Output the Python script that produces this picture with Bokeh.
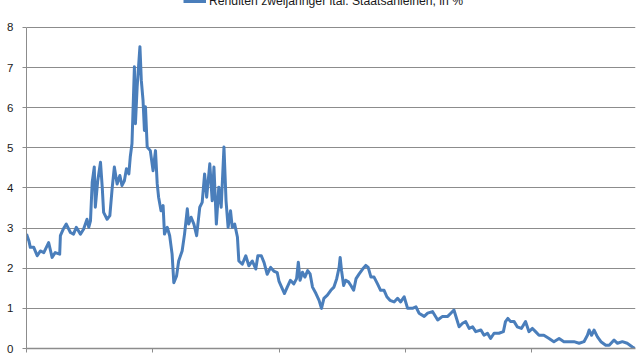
from bokeh.plotting import figure
from bokeh.models import FixedTicker, Legend, LegendItem, ColumnDataSource, Range1d
from bokeh.embed import file_html
from bokeh.resources import INLINE
import pandas as pd

# ---- data ----
dates = [
    "2011-01-01", "2011-01-08", "2011-01-12", "2011-01-22", "2011-02-01", "2011-02-10",
    "2011-02-20", "2011-03-06", "2011-03-16", "2011-03-25", "2011-04-07", "2011-04-09",
    "2011-04-17", "2011-04-26", "2011-05-08", "2011-05-17", "2011-05-25", "2011-06-06",
    "2011-06-15", "2011-06-25", "2011-06-30", "2011-07-05", "2011-07-10", "2011-07-16",
    "2011-07-19", "2011-07-26", "2011-08-03", "2011-08-08", "2011-08-12", "2011-08-22",
    "2011-08-30", "2011-09-06", "2011-09-12", "2011-09-20", "2011-09-28", "2011-10-04",
    "2011-10-11", "2011-10-17", "2011-10-24", "2011-10-28", "2011-11-02", "2011-11-09",
    "2011-11-12", "2011-11-17", "2011-11-25", "2011-11-29", "2011-12-04", "2011-12-08",
    "2011-12-11", "2011-12-16", "2011-12-25", "2012-01-02", "2012-01-09", "2012-01-14",
    "2012-01-18", "2012-01-25", "2012-01-31", "2012-02-04", "2012-02-12", "2012-02-19",
    "2012-02-26", "2012-03-02", "2012-03-10", "2012-03-16", "2012-03-26", "2012-04-02",
    "2012-04-10", "2012-04-14", "2012-04-21", "2012-04-29", "2012-05-07", "2012-05-16",
    "2012-05-23", "2012-05-30", "2012-06-05", "2012-06-14", "2012-06-21", "2012-06-26",
    "2012-07-03", "2012-07-10", "2012-07-17", "2012-07-25", "2012-07-31", "2012-08-06",
    "2012-08-13", "2012-08-18", "2012-08-25", "2012-09-02", "2012-09-06", "2012-09-16",
    "2012-09-26", "2012-10-05", "2012-10-15", "2012-10-25", "2012-10-31", "2012-11-10",
    "2012-11-18", "2012-11-27", "2012-12-07", "2012-12-16", "2012-12-26", "2012-12-31",
    "2013-01-06", "2013-01-16", "2013-01-24", "2013-02-02", "2013-02-12", "2013-02-20",
    "2013-02-25", "2013-03-02", "2013-03-09", "2013-03-16", "2013-03-24", "2013-03-31",
    "2013-04-07", "2013-04-17", "2013-04-26", "2013-05-03", "2013-05-10", "2013-05-20",
    "2013-05-30", "2013-06-08", "2013-06-16", "2013-06-23", "2013-06-26", "2013-06-30",
    "2013-07-06", "2013-07-12", "2013-07-20", "2013-07-27", "2013-08-04", "2013-08-11",
    "2013-08-20", "2013-08-30", "2013-09-08", "2013-09-15", "2013-09-23", "2013-10-02",
    "2013-10-12", "2013-10-21", "2013-10-31", "2013-11-08", "2013-11-17", "2013-11-29",
    "2013-12-09", "2013-12-18", "2013-12-28", "2014-01-07", "2014-01-21", "2014-01-31",
    "2014-02-09", "2014-02-24", "2014-03-06", "2014-03-20", "2014-04-04", "2014-04-18",
    "2014-05-03", "2014-05-12", "2014-05-21", "2014-05-27", "2014-06-05", "2014-06-15",
    "2014-06-24", "2014-07-04", "2014-07-14", "2014-07-23", "2014-08-07", "2014-08-16",
    "2014-08-26", "2014-09-04", "2014-09-14", "2014-09-28", "2014-10-11", "2014-10-17",
    "2014-10-24", "2014-11-01", "2014-11-11", "2014-11-20", "2014-12-02", "2014-12-14",
    "2014-12-24", "2015-01-03", "2015-01-12", "2015-01-22", "2015-02-05", "2015-02-20",
    "2015-03-06", "2015-03-21", "2015-04-04", "2015-04-19", "2015-05-03", "2015-05-18",
    "2015-06-01", "2015-06-11", "2015-06-16", "2015-06-23", "2015-06-30", "2015-07-10",
    "2015-07-20", "2015-08-03", "2015-08-13", "2015-08-27", "2015-09-06", "2015-09-20",
    "2015-10-04", "2015-10-19", "2015-10-26",
]
yields = [
    2.85, 2.68, 2.52, 2.52, 2.31, 2.43,
    2.39, 2.64, 2.27, 2.39, 2.35, 2.81,
    2.97, 3.10, 2.89, 2.85, 3.02, 2.85,
    2.97, 3.22, 3.02, 3.18, 4.14, 4.52,
    3.52, 4.18, 4.64, 4.02, 3.39, 3.22,
    3.31, 4.02, 4.52, 4.10, 4.31, 4.06,
    4.18, 4.48, 4.35, 4.77, 5.10, 7.02,
    5.60, 6.52, 7.52, 6.68, 6.18, 5.43,
    6.02, 5.02, 4.93, 4.43, 4.93, 4.10,
    3.77, 3.43, 3.56, 2.85, 3.02, 2.81,
    2.35, 1.64, 1.81, 2.18, 2.43, 2.85,
    3.48, 3.10, 3.27, 3.10, 2.81, 3.52,
    3.64, 4.35, 3.77, 4.60, 3.68, 4.52,
    3.10, 4.02, 3.52, 5.02, 3.68, 3.02,
    3.43, 3.02, 3.10, 2.77, 2.18, 2.10,
    2.31, 2.06, 2.18, 1.98, 2.31, 2.31,
    2.14, 1.85, 2.02, 1.93, 1.89, 1.68,
    1.56, 1.37, 1.53, 1.70, 1.61, 1.74,
    2.15, 1.70, 1.90, 1.78, 1.94, 1.86,
    1.53, 1.37, 1.20, 1.00, 1.25, 1.33,
    1.45, 1.53, 1.74, 2.02, 2.27, 1.94,
    1.57, 1.70, 1.66, 1.57, 1.45, 1.74,
    1.86, 1.98, 2.07, 2.02, 1.78, 1.78,
    1.61, 1.45, 1.45, 1.29, 1.20, 1.16,
    1.25, 1.16, 1.29, 1.00, 1.00, 1.04,
    0.88, 0.80, 0.88, 0.92, 0.71, 0.80,
    0.80, 0.88, 0.96, 0.79, 0.54, 0.63,
    0.67, 0.50, 0.54, 0.42, 0.46, 0.33,
    0.38, 0.25, 0.38, 0.38, 0.42, 0.67,
    0.75, 0.67, 0.67, 0.54, 0.50, 0.67,
    0.42, 0.50, 0.42, 0.33, 0.33, 0.25,
    0.17, 0.25, 0.17, 0.17, 0.17, 0.13,
    0.17, 0.33, 0.46, 0.33, 0.46, 0.29,
    0.17, 0.08, 0.08, 0.21, 0.13, 0.17,
    0.13, 0.04, 0.00,
]
year_ticks = ["2011-01-01", "2012-01-01", "2013-01-01", "2014-01-01", "2015-01-01"]
y_ticks = [0, 1, 2, 3, 4, 5, 6, 7, 8]
y_axis_max = 8
y_view_top = 8.67          # headroom above the axis for the (partly cut) legend
x_start, x_end = "2011-01-01", "2015-10-28"
series_label = "Renditen zweijähriger ital. Staatsanleihen, in %"

# ---- figure ----
src = ColumnDataSource(dict(date=pd.to_datetime(dates), value=yields))

p = figure(width=640, height=360, x_axis_type="datetime",
           x_range=Range1d(pd.Timestamp(x_start), pd.Timestamp(x_end)),
           y_range=Range1d(0, y_view_top),
           output_backend="svg", toolbar_location=None,
           min_border_left=26, min_border_right=5, min_border_top=0, min_border_bottom=12)
p.outline_line_color = None
p.background_fill_color = "white"
p.border_fill_color = "white"

grid_col = "#8c8c8c"
p.xgrid.visible = False
p.ygrid.grid_line_color = grid_col
p.ygrid.grid_line_width = 1

p.yaxis.ticker = FixedTicker(ticks=y_ticks)
p.yaxis.bounds = (0, y_axis_max)
p.yaxis.axis_line_color = grid_col
p.yaxis.major_tick_line_color = grid_col
p.yaxis.major_tick_out = 4
p.yaxis.major_tick_in = 0
p.yaxis.minor_tick_line_color = None
p.yaxis.major_label_text_font = "Liberation Sans"
p.yaxis.major_label_text_font_size = "11.5px"
p.yaxis.major_label_text_color = "#1a1a1a"
p.yaxis.major_label_standoff = 9

# year ticks on the x axis; their labels lie below the visible window in the reference
tick_ms = [pd.Timestamp(t).value // 10**6 for t in year_ticks]
p.xaxis.ticker = FixedTicker(ticks=tick_ms)
p.xaxis.major_label_overrides = {t: "" for t in tick_ms}
p.xaxis.axis_line_color = grid_col
p.xaxis.axis_line_width = 1.5
p.xaxis.major_tick_line_color = grid_col
p.xaxis.major_tick_out = 4
p.xaxis.major_tick_in = 0
p.xaxis.minor_tick_line_color = None
p.xaxis.major_label_text_font_size = "0px"
p.xaxis.major_label_standoff = 0

r = p.line("date", "value", source=src, line_color="#4a7ebb", line_width=3,
           line_join="round")

legend = Legend(items=[LegendItem(label=series_label, renderers=[r])],
                location=(157, 340), padding=0, margin=0, spacing=0,
                label_height=12, glyph_height=12, glyph_width=23, label_standoff=3,
                label_text_font="Liberation Sans", label_text_font_size="12.2px",
                label_text_color="#1a1a1a",
                border_line_color=None, background_fill_alpha=0)
p.add_layout(legend, "center")

open("out.html", "w").write(file_html(p, INLINE))
